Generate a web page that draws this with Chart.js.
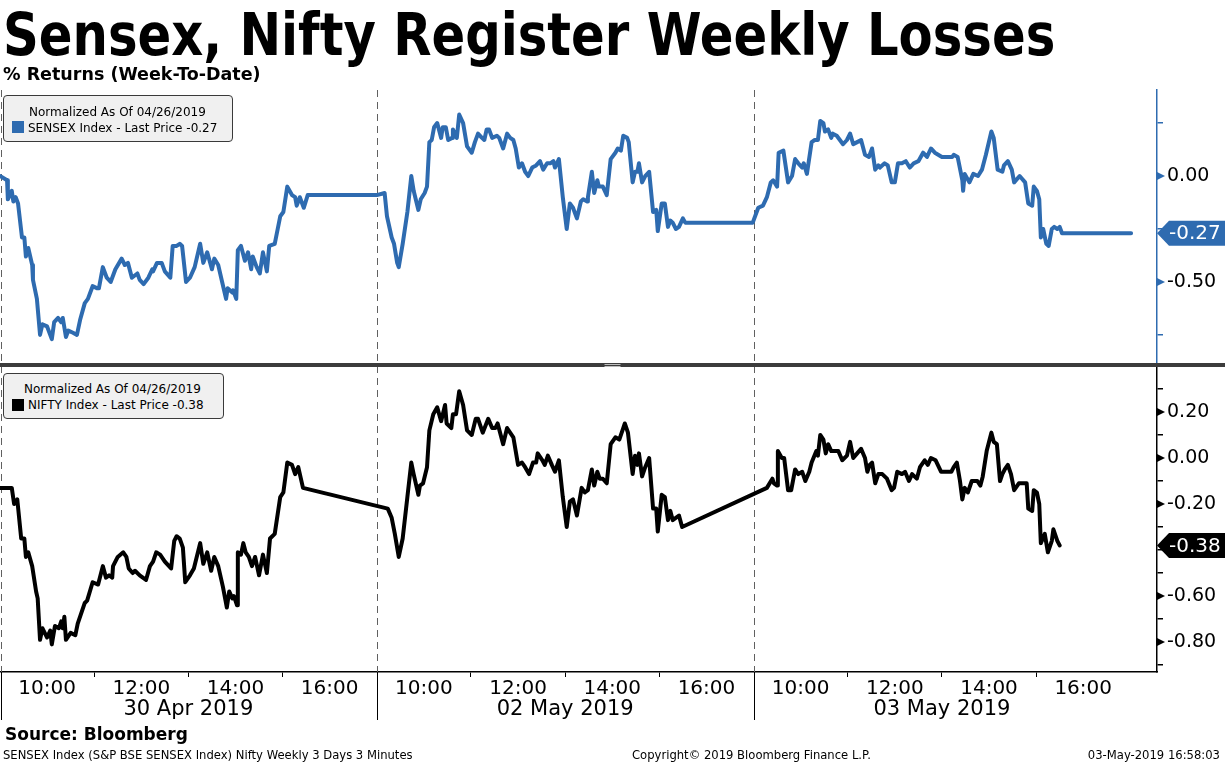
<!DOCTYPE html>
<html lang="en">
<head>
    <meta charset="utf-8"/>
    <title>Sensex, Nifty Register Weekly Losses</title>
    <script src="https://cdn.jsdelivr.net/npm/chart.js"></script>
    <style>
        body {
            margin: 0;
            background: #fff;
            font-family: "DejaVu Sans", sans-serif;
            color: #000;
        }

        #wrap {
            position: relative;
            width: 1225px;
            height: 764px;
            overflow: hidden;
        }

        #chart {
            position: absolute;
            left: 0;
            top: 0;
        }

        /* Header texts */
        .title {
            position: absolute;
            left: 3px;
            top: 6px;
            margin: 0;
            font: bold 58px/58px "DejaVu Sans", sans-serif;
            white-space: nowrap;
            transform: scaleX(0.857);
            transform-origin: 0 0;
        }

        .subtitle {
            position: absolute;
            left: 3px;
            top: 66px;
            font: bold 17.5px/17px "DejaVu Sans", sans-serif;
            white-space: nowrap;
        }

        /* Legend boxes in the panels */
        .legend {
            position: absolute;
            box-sizing: border-box;
            background: #f0f0f0;
            border: 1px solid #3a3a3a;
            border-radius: 4px;
            font-size: 12px;
            line-height: 14px;
            white-space: nowrap;
        }

        .legend span {
            position: absolute;
        }

        .legend .swatch {
            width: 12px;
            height: 12px;
        }

        /* Footer */
        .source {
            position: absolute;
            left: 5px;
            top: 726px;
            font: bold 17px/17px "DejaVu Sans", sans-serif;
        }

        .foot {
            position: absolute;
            top: 749px;
            font-size: 11.6px;
            line-height: 12px;
            white-space: nowrap;
        }
    </style>
</head>
<body>
<div id="wrap">
    <canvas id="chart" width="1225" height="764"></canvas>

    <h1 class="title">Sensex, Nifty Register Weekly Losses</h1>
    <div class="subtitle">% Returns (Week-To-Date)</div>

    <div class="legend" style="left:3px; top:95px; width:230px; height:47px;">
        <span style="left:25px; top:9px;">Normalized As Of 04/26/2019</span>
        <span class="swatch" style="left:8px; top:25px; background:#2e6bb0;"></span>
        <span style="left:24px; top:25px;">SENSEX Index - Last Price -0.27</span>
    </div>
    <div class="legend" style="left:3px; top:373px; width:221px; height:46px;">
        <span style="left:20px; top:8px;">Normalized As Of 04/26/2019</span>
        <span class="swatch" style="left:8px; top:25px; background:#000;"></span>
        <span style="left:24px; top:24px;">NIFTY Index - Last Price -0.38</span>
    </div>

    <div class="source">Source: Bloomberg</div>
    <div class="foot" style="left:3px;">SENSEX Index (S&amp;P BSE SENSEX Index) Nifty Weekly 3 Days 3 Minutes</div>
    <div class="foot" style="left:632px;">Copyright© 2019 Bloomberg Finance L.P.</div>
    <div class="foot" style="right:5px;">03-May-2019 16:58:03</div>
</div>

<script>
    // each trading day is drawn as a 09:00-17:00 window (480 minutes), days placed side by side
    const sessionMinutes = 480;
    const dayLabels = ['30 Apr 2019', '02 May 2019', '03 May 2019'];

    // minutes since 09:00 on 30 Apr, counted in session time
    const sensexMinutes = [
        0, 9, 10, 15, 17, 20, 23, 28, 31, 33, 36, 41, 42, 47, 51, 54, 60, 66, 69, 74,
        78, 80, 84, 87, 93, 98, 102, 108, 112, 118, 124, 126, 131, 136, 141, 147, 155, 159, 163, 168,
        175, 178, 183, 189, 194, 195, 200, 206, 210, 217, 220, 225, 229, 232, 237, 242, 248, 255, 259, 264,
        270, 273, 278, 283, 288, 290, 296, 297, 301, 303, 307, 312, 316, 320, 322, 327, 331, 335, 340, 343,
        350, 357, 361, 366, 372, 376, 378, 382, 387, 392, 480,
        490, 493, 499, 502, 506, 508, 513, 519, 524, 527, 533, 536, 541, 544, 547, 550, 553, 557, 562, 564,
        568, 571, 576, 577, 582, 585, 590, 595, 601, 605, 609, 614, 617, 620, 623, 627, 633, 636, 641, 646,
        650, 654, 657, 661, 665, 669, 673, 678, 683, 688, 692, 697, 701, 705, 707, 712, 717, 722, 726, 730,
        735, 740, 743, 748, 749, 754, 757, 761, 763, 768, 773, 778, 784, 787, 791, 794, 799, 801, 806, 809,
        812, 814, 818, 822, 827, 832, 836, 838, 843, 847, 851, 854, 857, 861, 865, 870, 873, 959,
        966, 972, 977, 982, 985, 990, 992, 998, 1004, 1009, 1013, 1017, 1022, 1024, 1028, 1034, 1038, 1042, 1045, 1049,
        1051, 1055, 1059, 1061, 1066, 1074, 1079, 1083, 1087, 1092, 1097, 1102, 1107, 1111, 1115, 1119, 1121, 1127, 1131, 1136,
        1140, 1144, 1149, 1154, 1159, 1164, 1170, 1176, 1181, 1186, 1191, 1200, 1206, 1213, 1215, 1220, 1226, 1227, 1229, 1235,
        1240, 1246, 1251, 1256, 1263, 1266, 1271, 1277, 1279, 1284, 1289, 1292, 1299, 1306, 1310, 1315, 1317, 1321, 1324, 1326,
        1329, 1333, 1336, 1340, 1343, 1347, 1350, 1353, 1441
    ];
    const sensexReturns = [
        0.00, -0.02, -0.11, -0.07, -0.12, -0.10, -0.13, -0.29, -0.29, -0.38, -0.34, -0.42, -0.49, -0.58, -0.75, -0.70, -0.71, -0.77, -0.69, -0.67,
        -0.69, -0.67, -0.76, -0.73, -0.74, -0.75, -0.68, -0.60, -0.58, -0.52, -0.53, -0.53, -0.43, -0.48, -0.50, -0.44, -0.39, -0.42, -0.41, -0.48,
        -0.46, -0.49, -0.51, -0.48, -0.44, -0.45, -0.41, -0.41, -0.45, -0.48, -0.33, -0.33, -0.32, -0.33, -0.50, -0.48, -0.43, -0.32, -0.41, -0.36,
        -0.44, -0.39, -0.42, -0.50, -0.58, -0.53, -0.55, -0.54, -0.58, -0.35, -0.33, -0.40, -0.36, -0.44, -0.38, -0.43, -0.46, -0.36, -0.45, -0.33,
        -0.32, -0.19, -0.17, -0.05, -0.09, -0.10, -0.14, -0.10, -0.15, -0.09, -0.09,
        -0.08, -0.19, -0.29, -0.32, -0.41, -0.43, -0.32, -0.17, 0.00, -0.07, -0.16, -0.11, -0.08, -0.05, 0.16, 0.17, 0.23, 0.25, 0.18, 0.23,
        0.23, 0.17, 0.18, 0.22, 0.18, 0.29, 0.25, 0.14, 0.11, 0.16, 0.20, 0.18, 0.17, 0.22, 0.22, 0.18, 0.19, 0.18, 0.13, 0.20,
        0.18, 0.17, 0.13, 0.04, 0.06, 0.02, 0.00, 0.04, 0.05, 0.07, 0.03, 0.06, 0.06, 0.07, 0.04, 0.08, -0.10, -0.25, -0.13, -0.15,
        -0.20, -0.12, -0.11, -0.12, -0.10, 0.02, -0.08, -0.02, -0.05, -0.05, -0.09, 0.08, 0.11, 0.13, 0.12, 0.19, 0.18, 0.16, -0.03, 0.02,
        0.02, 0.06, -0.03, 0.00, 0.02, -0.17, -0.16, -0.26, -0.13, -0.13, -0.24, -0.21, -0.22, -0.25, -0.24, -0.20, -0.22, -0.22,
        -0.15, -0.14, -0.10, -0.03, -0.02, -0.05, 0.11, 0.12, -0.03, 0.00, 0.08, 0.06, 0.04, 0.06, 0.01, 0.16, 0.17, 0.17, 0.26, 0.25,
        0.21, 0.22, 0.18, 0.20, 0.19, 0.15, 0.17, 0.20, 0.15, 0.16, 0.17, 0.10, 0.09, 0.13, 0.03, 0.05, 0.04, 0.06, 0.05, -0.03,
        -0.03, 0.06, 0.06, 0.07, 0.04, 0.06, 0.07, 0.11, 0.09, 0.13, 0.11, 0.09, 0.09, 0.09, 0.10, 0.09, -0.02, -0.07, 0.01, -0.03,
        0.01, 0.00, 0.03, 0.10, 0.21, 0.18, 0.03, 0.02, 0.05, 0.07, 0.03, -0.03, 0.00, -0.03, -0.13, -0.14, -0.05, -0.07, -0.11, -0.29,
        -0.25, -0.32, -0.33, -0.25, -0.24, -0.25, -0.24, -0.27, -0.27
    ];

    const niftyMinutes = [
        0, 15, 18, 22, 27, 31, 33, 36, 41, 42, 46, 48, 51, 54, 57, 60, 64, 66, 70, 75,
        78, 80, 82, 84, 90, 96, 99, 108, 111, 118, 125, 131, 135, 139, 143, 144, 150, 157, 161, 164,
        169, 172, 178, 186, 191, 195, 199, 204, 210, 218, 222, 225, 229, 233, 236, 242, 247, 255, 259, 264,
        269, 273, 278, 284, 289, 292, 296, 298, 302, 303, 307, 310, 313, 317, 321, 325, 330, 335, 340, 344,
        350, 357, 361, 366, 372, 376, 380, 386,
        494, 499, 503, 508, 513, 519, 524, 527, 533, 535, 539, 544, 547, 552, 557, 562, 567, 569, 575, 577,
        581, 585, 590, 595, 601, 606, 609, 615, 622, 627, 631, 634, 641, 646, 654, 660, 665, 669, 674, 679,
        683, 685, 691, 694, 698, 703, 707, 712, 717, 722, 726, 730, 735, 741, 745, 749, 754, 757, 761, 764,
        768, 773, 778, 784, 789, 794, 796, 800, 806, 809, 812, 814, 818, 822, 827, 832, 836, 838, 843, 847,
        851, 854, 857, 861, 865, 869,
        977, 984, 986, 990, 991, 996, 999, 1004, 1008, 1013, 1017, 1022, 1026, 1031, 1034, 1040, 1042, 1045, 1049, 1052,
        1055, 1059, 1064, 1068, 1073, 1079, 1083, 1087, 1092, 1097, 1102, 1105, 1108, 1111, 1115, 1119, 1124, 1130, 1136, 1139,
        1143, 1149, 1153, 1158, 1162, 1168, 1172, 1178, 1182, 1186, 1192, 1199, 1204, 1212, 1215, 1219, 1223, 1226, 1229, 1233,
        1238, 1245, 1249, 1252, 1257, 1263, 1266, 1270, 1274, 1277, 1280, 1284, 1288, 1292, 1298, 1303, 1308, 1310, 1315, 1317,
        1321, 1324, 1326, 1331, 1335, 1340, 1342, 1347, 1350
    ];
    const niftyReturns = [
        -0.13, -0.13, -0.20, -0.18, -0.35, -0.35, -0.43, -0.41, -0.47, -0.47, -0.58, -0.61, -0.79, -0.74, -0.76, -0.78, -0.75, -0.81, -0.73, -0.74,
        -0.71, -0.74, -0.69, -0.79, -0.76, -0.77, -0.72, -0.63, -0.62, -0.54, -0.55, -0.47, -0.52, -0.51, -0.52, -0.47, -0.43, -0.41, -0.43, -0.48,
        -0.50, -0.49, -0.51, -0.53, -0.47, -0.45, -0.41, -0.42, -0.45, -0.48, -0.36, -0.34, -0.35, -0.39, -0.54, -0.51, -0.48, -0.37, -0.46, -0.41,
        -0.49, -0.43, -0.47, -0.56, -0.65, -0.58, -0.61, -0.60, -0.64, -0.41, -0.42, -0.37, -0.41, -0.43, -0.47, -0.43, -0.51, -0.42, -0.50, -0.35,
        -0.33, -0.17, -0.15, -0.02, -0.03, -0.07, -0.04, -0.13,
        -0.22, -0.26, -0.33, -0.43, -0.35, -0.17, -0.02, -0.07, -0.16, -0.12, -0.11, -0.04, 0.12, 0.19, 0.22, 0.16, 0.23, 0.15, 0.13, 0.19,
        0.19, 0.29, 0.23, 0.12, 0.10, 0.17, 0.17, 0.11, 0.17, 0.13, 0.13, 0.15, 0.06, 0.13, 0.09, -0.03, -0.02, -0.04, -0.07, -0.02,
        -0.02, 0.02, -0.01, -0.03, 0.01, -0.03, -0.06, -0.01, -0.17, -0.30, -0.19, -0.18, -0.25, -0.13, -0.15, -0.14, -0.05, -0.12, -0.06, -0.09,
        -0.09, -0.11, 0.06, 0.09, 0.08, 0.13, 0.15, 0.11, -0.07, 0.01, -0.03, 0.02, -0.08, -0.04, 0.00, -0.22, -0.22, -0.32, -0.16, -0.17,
        -0.27, -0.23, -0.27, -0.26, -0.25, -0.30,
        -0.13, -0.09, -0.11, -0.12, 0.03, 0.00, 0.00, -0.14, -0.14, -0.05, -0.07, -0.06, -0.10, -0.06, -0.02, 0.03, 0.01, 0.10, 0.08, 0.02,
        0.06, 0.03, 0.03, 0.03, -0.01, 0.01, 0.07, 0.00, 0.02, 0.04, 0.00, -0.06, -0.03, -0.02, -0.11, -0.07, -0.07, -0.09, -0.14, -0.13,
        -0.06, -0.07, -0.06, -0.10, -0.07, -0.09, -0.04, -0.01, -0.03, 0.00, -0.01, -0.06, -0.06, -0.06, -0.04, -0.02, -0.10, -0.18, -0.13, -0.15,
        -0.10, -0.10, -0.12, -0.08, 0.03, 0.11, 0.07, 0.06, -0.10, -0.07, -0.05, -0.03, -0.07, -0.14, -0.11, -0.11, -0.11, -0.22, -0.23, -0.14,
        -0.15, -0.20, -0.37, -0.33, -0.41, -0.36, -0.31, -0.36, -0.38
    ];

    const sensexLast = -0.27;
    const niftyLast = -0.38;

    // right axis ticks, only some of them carry a label
    const sensexTicks = [0.25, 0, -0.25, -0.5, -0.75];
    const sensexLabelled = [0, -0.5];
    const niftyTicks = [0.3, 0.2, 0.1, 0, -0.1, -0.2, -0.3, -0.4, -0.5, -0.6, -0.7, -0.8, -0.9];
    const niftyLabelled = [0.2, 0, -0.2, -0.6, -0.8];

    const BLUE = '#2e6bb0';
    const FONT = '"DejaVu Sans", sans-serif';
    const AXIS_RIGHT = 68;

    const toPoints = (xs, ys) => xs.map((m, i) => ({x: m, y: ys[i]}));
    const isLabelled = (list, v) => list.some(t => Math.abs(t - v) < 1e-6);

    function drawTag(ctx, left, right, y, text, fill) {
        const h = 25;
        ctx.beginPath();
        ctx.moveTo(left, y);
        ctx.lineTo(left + 12, y - h / 2);
        ctx.lineTo(right, y - h / 2);
        ctx.lineTo(right, y + h / 2);
        ctx.lineTo(left + 12, y + h / 2);
        ctx.closePath();
        ctx.fillStyle = fill;
        ctx.fill();
        ctx.fillStyle = '#fff';
        ctx.font = '20px ' + FONT;
        ctx.textAlign = 'left';
        ctx.textBaseline = 'middle';
        ctx.fillText(text, left + 12, y + 1);
    }

    const bloombergFrame = {
        id: 'bloombergFrame',
        beforeDatasetsDraw(chart) {
            const {ctx, chartArea, scales: {x}} = chart;
            ctx.save();
            ctx.strokeStyle = '#606060';
            ctx.lineWidth = 1;
            ctx.setLineDash([7, 5]);
            dayLabels.forEach((d, i) => {
                const px = Math.max(Math.round(x.getPixelForValue(i * sessionMinutes)), 1) + 0.5;
                ctx.beginPath();
                ctx.moveTo(px, chartArea.top);
                ctx.lineTo(px, chartArea.bottom);
                ctx.stroke();
            });
            ctx.restore();
        },
        afterDraw(chart) {
            const {ctx, chartArea, scales: {x, yS, yN}} = chart;
            const W = chart.width;
            ctx.save();

            // day separators and date labels under the time axis
            ctx.strokeStyle = '#000';
            ctx.lineWidth = 1;
            dayLabels.forEach((d, i) => {
                const px = Math.max(Math.round(x.getPixelForValue(i * sessionMinutes)), 1) + 0.5;
                ctx.beginPath();
                ctx.moveTo(px, chartArea.bottom);
                ctx.lineTo(px, chartArea.bottom + 48);
                ctx.stroke();
                ctx.fillStyle = '#000';
                ctx.font = '21px ' + FONT;
                ctx.textAlign = 'center';
                ctx.textBaseline = 'middle';
                ctx.fillText(d, x.getPixelForValue((i + 0.5) * sessionMinutes), chartArea.bottom + 38);
            });

            // thick divider between the two panels
            const split = Math.min(yS.bottom, yN.bottom);
            ctx.fillStyle = '#3c3c3c';
            ctx.fillRect(0, split - 2, W, 4);
            ctx.fillStyle = '#bdbdbd';
            ctx.fillRect(W / 2 - 8, split - 1, 16, 1);
            ctx.fillRect(W / 2 - 8, split + 1, 16, 1);

            // arrow heads on labelled ticks
            [[yS, sensexLabelled, BLUE], [yN, niftyLabelled, '#000']].forEach(([s, list, col]) => {
                ctx.fillStyle = col;
                list.forEach(v => {
                    const py = s.getPixelForValue(v);
                    ctx.beginPath();
                    ctx.moveTo(s.left, py - 4);
                    ctx.lineTo(s.left + 8, py);
                    ctx.lineTo(s.left, py + 4);
                    ctx.closePath();
                    ctx.fill();
                });
            });

            // last value tags
            drawTag(ctx, yS.left, W, yS.getPixelForValue(sensexLast), sensexLast.toFixed(2), BLUE);
            drawTag(ctx, yN.left, W, yN.getPixelForValue(niftyLast), niftyLast.toFixed(2), '#000');
            ctx.restore();
        }
    };

    const yAxis = (ticks, labelled, min, max, weight, color) => ({
        type: 'linear',
        position: 'right',
        stack: 'panels',
        stackWeight: weight,
        min: min,
        max: max,
        afterFit: s => { s.width = AXIS_RIGHT; },
        afterBuildTicks: s => { s.ticks = ticks.map(v => ({value: v})); },
        border: {color: color, width: 1.5},
        grid: {drawOnChartArea: false, tickLength: 6, tickColor: color, lineWidth: 1.5},
        ticks: {
            autoSkip: false,
            color: '#000',
            padding: 4,
            font: {family: FONT, size: 19},
            callback: v => isLabelled(labelled, v) ? (Math.abs(v) < 1e-9 ? 0 : v).toFixed(2) : ''
        }
    });

    new Chart(document.getElementById('chart'), {
        type: 'line',
        data: {
            datasets: [
                {
                    label: 'SENSEX Index',
                    data: toPoints(sensexMinutes, sensexReturns),
                    yAxisID: 'yS',
                    borderColor: BLUE
                },
                {
                    label: 'NIFTY Index',
                    data: toPoints(niftyMinutes, niftyReturns),
                    yAxisID: 'yN',
                    borderColor: '#000'
                }
            ]
        },
        options: {
            responsive: false,
            animation: false,
            layout: {padding: {top: 90, left: 0, right: 0, bottom: 0}},
            elements: {
                point: {radius: 0},
                line: {borderWidth: 4, tension: 0, borderJoinStyle: 'round', borderCapStyle: 'round'}
            },
            plugins: {
                legend: {display: false},
                tooltip: {enabled: false}
            },
            scales: {
                x: {
                    type: 'linear',
                    position: 'bottom',
                    min: 0,
                    max: 1474,
                    afterFit: s => { s.height = 92; },
                    afterBuildTicks: s => {
                        const t = [];
                        dayLabels.forEach((d, i) => {
                            for (let h = (i === 0 ? 0 : 1); h <= 8; h++) t.push({value: i * sessionMinutes + h * 60});
                        });
                        s.ticks = t;
                    },
                    border: {color: '#000', width: 1.5},
                    grid: {
                        drawOnChartArea: false,
                        tickLength: 5,
                        tickColor: c => (c.tick && ((c.tick.value % sessionMinutes) / 60) % 2 === 0 && c.tick.value % sessionMinutes !== 0) ? '#000' : 'rgba(0,0,0,0)'
                    },
                    ticks: {
                        autoSkip: false,
                        maxRotation: 0,
                        padding: 0,
                        color: '#000',
                        font: {family: FONT, size: 20},
                        callback: v => {
                            const h = (v % sessionMinutes) / 60;
                            return h % 2 === 1 ? (9 + h) + ':00' : '';
                        }
                    }
                },
                yS: yAxis(sensexTicks, sensexLabelled, -0.892, 0.406, 275, BLUE),
                yN: yAxis(niftyTicks, niftyLabelled, -0.93, 0.404, 307, '#000')
            }
        },
        plugins: [bloombergFrame]
    });
</script>
</body>
</html>
